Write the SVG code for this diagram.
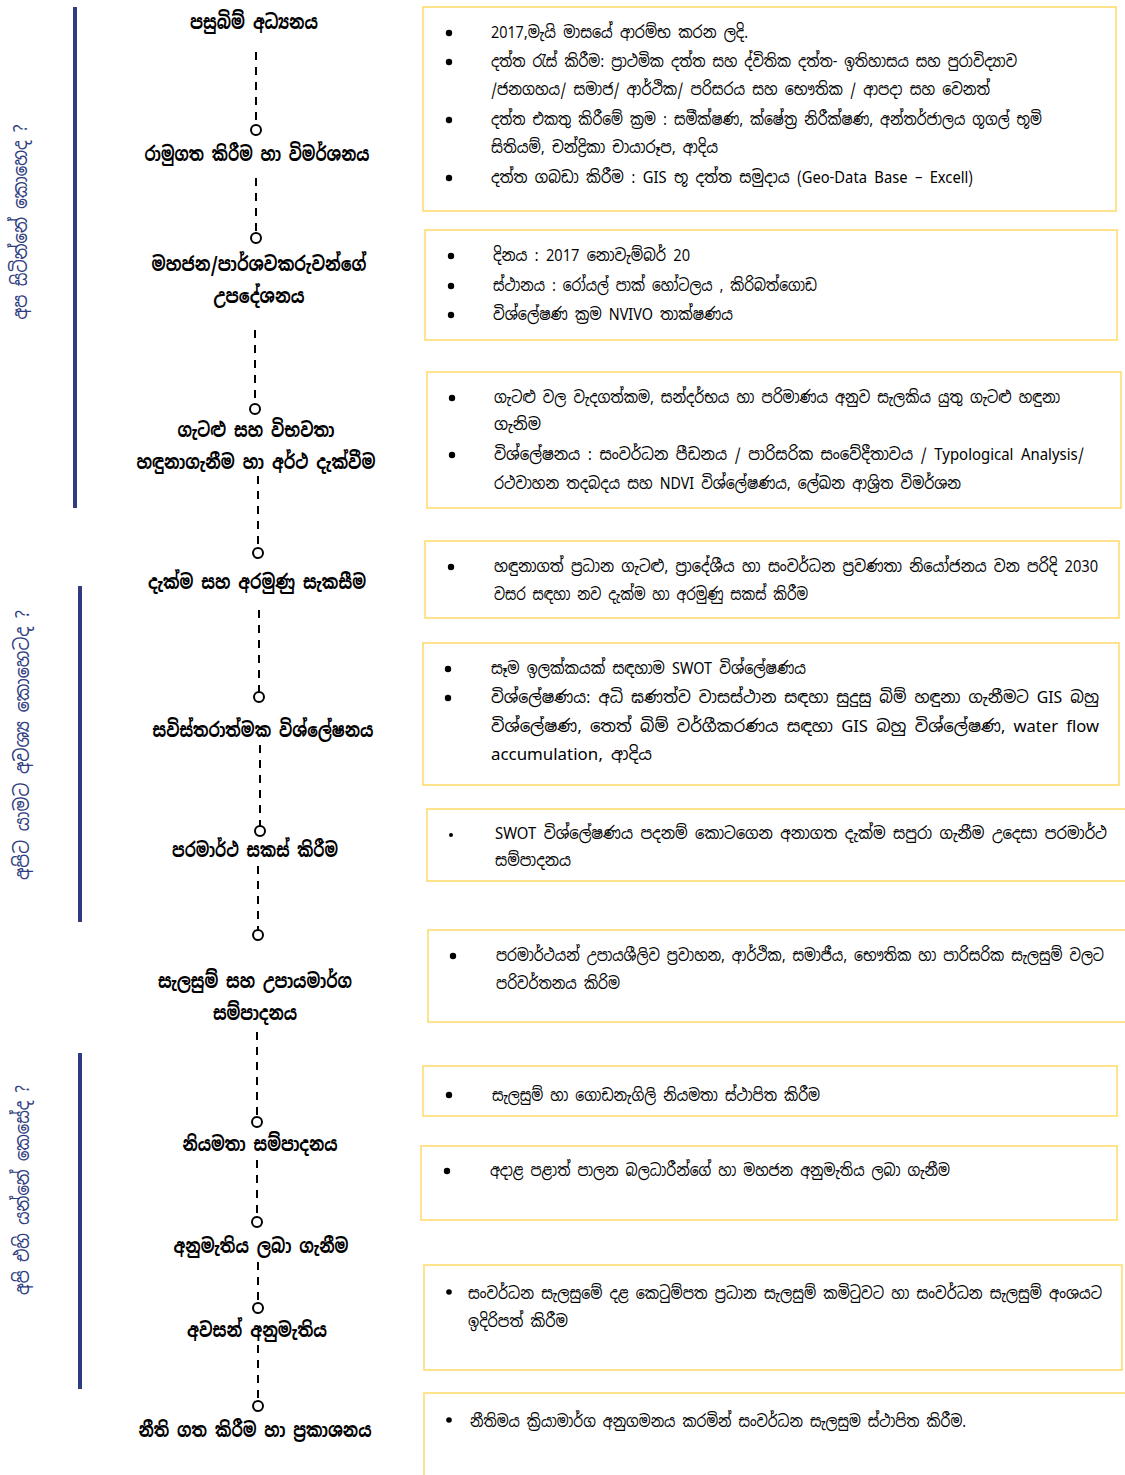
<svg xmlns="http://www.w3.org/2000/svg" width="1125" height="1475" viewBox="0 0 1125 1475">
<style>
.node{font-family:"Noto Sans Sinhala","Iskoola Pota","Noto Sans","Liberation Sans",sans-serif;font-size:20px;font-weight:bold;fill:#000;text-anchor:middle}
.side{font-family:"Noto Sans Sinhala","Iskoola Pota","Noto Sans","Liberation Sans",sans-serif;font-size:20px;fill:#2f3d80;text-anchor:middle}
.t{font-family:"Noto Sans Sinhala","Iskoola Pota","Noto Sans","Liberation Sans",sans-serif;font-size:17px;fill:#000}
.box{fill:#fff;stroke:#ffd966;stroke-width:1.5}
.bar{fill:#2f3d80}
.dash{stroke:#000;stroke-width:2;stroke-dasharray:8 7;fill:none}
.dot{fill:#fff;stroke:#000;stroke-width:2}
.b{fill:#000}
</style>
<rect width="1125" height="1475" fill="#fff"/>

<g id="side-labels">
<rect class="bar" x="73" y="7" width="4" height="501"/>
<rect class="bar" x="78" y="586" width="4" height="336"/>
<rect class="bar" x="78" y="1053" width="4" height="336"/>
<text class="side" transform="translate(27,222) rotate(-90)" textLength="195" lengthAdjust="spacingAndGlyphs">අප සිටින්නේ කොහෙද ?</text>
<text class="side" transform="translate(29,745) rotate(-90)" textLength="270" lengthAdjust="spacingAndGlyphs">අපිට යාමට අවශ්‍ය කොහෙටද ?</text>
<text class="side" transform="translate(29,1190) rotate(-90)" textLength="210" lengthAdjust="spacingAndGlyphs">අපි එහි යන්නේ කෙසේද ?</text>
</g>

<g id="connectors">
<line class="dash" x1="256" y1="52" x2="256" y2="125"/><circle class="dot" cx="256" cy="130" r="5"/>
<line class="dash" x1="256" y1="178" x2="256" y2="233"/><circle class="dot" cx="256" cy="238" r="5"/>
<line class="dash" x1="255" y1="330" x2="255" y2="404"/><circle class="dot" cx="255" cy="409" r="5"/>
<line class="dash" x1="258" y1="476" x2="258" y2="548"/><circle class="dot" cx="258" cy="553" r="5"/>
<line class="dash" x1="259" y1="610" x2="259" y2="692"/><circle class="dot" cx="259" cy="697" r="5"/>
<line class="dash" x1="260" y1="745" x2="260" y2="826"/><circle class="dot" cx="260" cy="831" r="5"/>
<line class="dash" x1="258" y1="866" x2="258" y2="930"/><circle class="dot" cx="258" cy="935" r="5"/>
<line class="dash" x1="257" y1="1032" x2="257" y2="1117"/><circle class="dot" cx="257" cy="1122" r="5"/>
<line class="dash" x1="257" y1="1160" x2="257" y2="1217"/><circle class="dot" cx="257" cy="1222" r="5"/>
<line class="dash" x1="258" y1="1262" x2="258" y2="1303"/><circle class="dot" cx="258" cy="1308" r="5"/>
<line class="dash" x1="258" y1="1345" x2="258" y2="1401"/><circle class="dot" cx="258" cy="1406" r="5"/>
</g>

<g id="steps">
<g id="n1"><text class="node" x="254" y="29" textLength="128" lengthAdjust="spacingAndGlyphs">පසුබිම් අධ්‍යනය</text></g>
<g id="n2"><text class="node" x="257" y="161" textLength="225" lengthAdjust="spacingAndGlyphs">රාමුගත කිරීම හා විමර්ශනය</text></g>
<g id="n3"><text class="node" x="259" y="271" textLength="215" lengthAdjust="spacingAndGlyphs">මහජන/පාර්ශවකරුවන්ගේ</text><text class="node" x="259" y="303" textLength="91" lengthAdjust="spacingAndGlyphs">උපදේශනය</text></g>
<g id="n4"><text class="node" x="256" y="437" textLength="157" lengthAdjust="spacingAndGlyphs">ගැටළු සහ විභවතා</text><text class="node" x="256" y="469" textLength="239" lengthAdjust="spacingAndGlyphs">හඳුනාගැනීම හා අර්ථ දැක්වීම</text></g>
<g id="n5"><text class="node" x="257" y="589" textLength="218" lengthAdjust="spacingAndGlyphs">දැක්ම සහ අරමුණු සැකසීම</text></g>
<g id="n6"><text class="node" x="263" y="737" textLength="221" lengthAdjust="spacingAndGlyphs">සවිස්තරාත්මක විශ්ලේෂනය</text></g>
<g id="n7"><text class="node" x="255" y="857" textLength="166" lengthAdjust="spacingAndGlyphs">පරමාර්ථ සකස් කිරීම</text></g>
<g id="n8"><text class="node" x="255" y="988" textLength="194" lengthAdjust="spacingAndGlyphs">සැලසුම් සහ උපායමාර්ග</text><text class="node" x="255" y="1020" textLength="84" lengthAdjust="spacingAndGlyphs">සම්පාදනය</text></g>
<g id="n9"><text class="node" x="260" y="1151" textLength="155" lengthAdjust="spacingAndGlyphs">නියමතා සම්පාදනය</text></g>
<g id="n10"><text class="node" x="261" y="1253" textLength="175" lengthAdjust="spacingAndGlyphs">අනුමැතිය ලබා ගැනීම</text></g>
<g id="n11"><text class="node" x="257" y="1337" textLength="140" lengthAdjust="spacingAndGlyphs">අවසන් අනුමැතිය</text></g>
<g id="n12"><text class="node" x="255" y="1437" textLength="233" lengthAdjust="spacingAndGlyphs">නීති ගත කිරීම හා ප්‍රකාශනය</text></g>
</g>

<g id="details">
<g id="d1">
<rect class="box" x="423" y="7" width="693" height="204"/>
<circle class="b" cx="449" cy="33" r="3.2"/><text class="t" x="491" y="38" textLength="257" lengthAdjust="spacingAndGlyphs">2017,මැයි මාසයේ ආරම්භ කරන ලදි.</text>
<circle class="b" cx="449" cy="62" r="3.2"/><text class="t" x="491" y="67" textLength="526" lengthAdjust="spacingAndGlyphs">දත්ත රැස් කිරීම: ප්‍රාථමික දත්ත සහ ද්විතික දත්ත- ඉතිහාසය සහ පුරාවිද්‍යාව</text>
<text class="t" x="491" y="95" textLength="499" lengthAdjust="spacingAndGlyphs">/ජනගහය/ සමාජ/ ආර්ථික/ පරිසරය සහ භෞතික / ආපදා සහ වෙනත්</text>
<circle class="b" cx="449" cy="120" r="3.2"/><text class="t" x="491" y="125" textLength="551" lengthAdjust="spacingAndGlyphs">දත්ත එකතු කිරීමේ ක්‍රම : සමීක්ෂණ, ක්ෂේත්‍ර නිරීක්ෂණ, අන්තර්ජාලය ගූගල් භූමි</text>
<text class="t" x="491" y="153" textLength="227" lengthAdjust="spacingAndGlyphs">සිතියම්, චන්ද්‍රිකා චායාරූප, ආදිය</text>
<circle class="b" cx="449" cy="178" r="3.2"/><text class="t" x="491" y="183" textLength="482" lengthAdjust="spacingAndGlyphs">දත්ත ගබඩා කිරීම : GIS භූ දත්ත සමුදාය (Geo-Data Base – Excell)</text>
</g>
<g id="d2">
<rect class="box" x="425" y="230" width="692" height="110"/>
<circle class="b" cx="451" cy="256" r="3.2"/><text class="t" x="493" y="261" textLength="197" lengthAdjust="spacingAndGlyphs">දිනය : 2017 නොවැම්බර් 20</text>
<circle class="b" cx="451" cy="286" r="3.2"/><text class="t" x="493" y="291" textLength="324" lengthAdjust="spacingAndGlyphs">ස්ථානය : රෝයල් පාක් හෝටලය , කිරිබත්ගොඩ</text>
<circle class="b" cx="451" cy="315" r="3.2"/><text class="t" x="493" y="320" textLength="240" lengthAdjust="spacingAndGlyphs">විශ්ලේෂණ ක්‍රම NVIVO තාක්ෂණය</text>
</g>
<g id="d3">
<rect class="box" x="427" y="372" width="694" height="136"/>
<circle class="b" cx="452" cy="398" r="3.2"/><text class="t" x="494" y="403" textLength="566" lengthAdjust="spacingAndGlyphs">ගැටළු වල වැදගත්කම, සන්දර්භය හා පරිමාණය අනුව සැලකිය යුතු ගැටළු හඳුනා</text>
<text class="t" x="494" y="430" textLength="47" lengthAdjust="spacingAndGlyphs">ගැනිම</text>
<circle class="b" cx="452" cy="455" r="3.2"/><text class="t" x="494" y="460" textLength="590" lengthAdjust="spacingAndGlyphs">විශ්ලේෂනය : සංවර්ධන පීඩනය / පාරිසරික සංවේදීතාවය / Typological Analysis/</text>
<text class="t" x="494" y="489" textLength="467" lengthAdjust="spacingAndGlyphs">රථවාහන තදබදය සහ NDVI විශ්ලේෂණය, ලේඛන ආශ්‍රිත විමර්ශන</text>
</g>
<g id="d4">
<rect class="box" x="425" y="541" width="694" height="77"/>
<circle class="b" cx="451" cy="567" r="3.2"/><text class="t" x="494" y="572" textLength="604" lengthAdjust="spacingAndGlyphs">හඳුනාගත් ප්‍රධාන ගැටළු, ප්‍රාදේශීය හා සංවර්ධන ප්‍රවණතා නියෝජනය වන පරිදි 2030</text>
<text class="t" x="494" y="600" textLength="314" lengthAdjust="spacingAndGlyphs">වසර සඳහා නව දැක්ම හා අරමුණු සකස් කිරීම</text>
</g>
<g id="d5">
<rect class="box" x="423" y="643" width="696" height="142"/>
<circle class="b" cx="448" cy="669" r="3.2"/><text class="t" x="491" y="674" textLength="315" lengthAdjust="spacingAndGlyphs">සෑම ඉලක්කයක් සඳහාම SWOT විශ්ලේෂණය</text>
<circle class="b" cx="448" cy="698" r="3.2"/><text class="t" x="491" y="703" textLength="608" lengthAdjust="spacingAndGlyphs">විශ්ලේෂණය: අධි ඝණත්ව වාසස්ථාන සඳහා සුදුසු බිම් හඳුනා ගැනීමට GIS බහු</text>
<text class="t" x="491" y="732" textLength="608" lengthAdjust="spacingAndGlyphs">විශ්ලේෂණ, තෙත් බිම් වර්ගීකරණය සඳහා GIS බහු විශ්ලේෂණ, water flow</text>
<text class="t" x="491" y="760" textLength="161" lengthAdjust="spacingAndGlyphs">accumulation, ආදිය</text>
</g>
<g id="d6">
<rect class="box" x="427" y="809" width="700" height="72"/>
<circle class="b" cx="451" cy="835" r="2"/><text class="t" x="495" y="839" textLength="612" lengthAdjust="spacingAndGlyphs">SWOT විශ්ලේෂණය පදනම් කොටගෙන අනාගත දැක්ම සපුරා ගැනීම උදෙසා පරමාර්ථ</text>
<text class="t" x="495" y="866" textLength="76" lengthAdjust="spacingAndGlyphs">සම්පාදනය</text>
</g>
<g id="d7">
<rect class="box" x="428" y="930" width="699" height="92"/>
<circle class="b" cx="453" cy="956" r="3.2"/><text class="t" x="496" y="961" textLength="608" lengthAdjust="spacingAndGlyphs">පරමාර්ථයන් උපායශීලිව ප්‍රවාහන, ආර්ථික, සමාජීය, භෞතික හා පාරිසරික සැලසුම් වලට</text>
<text class="t" x="496" y="989" textLength="124" lengthAdjust="spacingAndGlyphs">පරිවර්තනය කිරිම</text>
</g>
<g id="d8">
<rect class="box" x="423" y="1066" width="694" height="50"/>
<circle class="b" cx="449" cy="1095" r="3.2"/><text class="t" x="492" y="1101" textLength="328" lengthAdjust="spacingAndGlyphs">සැලසුම් හා ගොඩනැගිලි නියමතා ස්ථාපිත කිරීම</text>
</g>
<g id="d9">
<rect class="box" x="421" y="1146" width="696" height="74"/>
<circle class="b" cx="447" cy="1171" r="3.2"/><text class="t" x="490" y="1176" textLength="460" lengthAdjust="spacingAndGlyphs">අදාළ පළාත් පාලන බලධාරීන්ගේ හා මහජන අනුමැතිය ලබා ගැනීම</text>
</g>
<g id="d10">
<rect class="box" x="424" y="1265" width="698" height="105"/>
<circle class="b" cx="449" cy="1292" r="2.8"/><text class="t" x="468" y="1299" textLength="634" lengthAdjust="spacingAndGlyphs">සංවර්ධන සැලසුමේ දළ කෙටුම්පත ප්‍රධාන සැලසුම් කමිටුවට හා සංවර්ධන සැලසුම් අංශයට</text>
<text class="t" x="468" y="1327" textLength="100" lengthAdjust="spacingAndGlyphs">ඉදිරිපත් කිරීම</text>
</g>
<g id="d11">
<rect class="box" x="424" y="1393" width="705" height="90"/>
<circle class="b" cx="449" cy="1420" r="2.8"/><text class="t" x="470" y="1427" textLength="496" lengthAdjust="spacingAndGlyphs">නීතිමය ක්‍රියාමාර්ග අනුගමනය කරමින් සංවර්ධන සැලසුම ස්ථාපිත කිරීම.</text>
</g>
</g>
</svg>
